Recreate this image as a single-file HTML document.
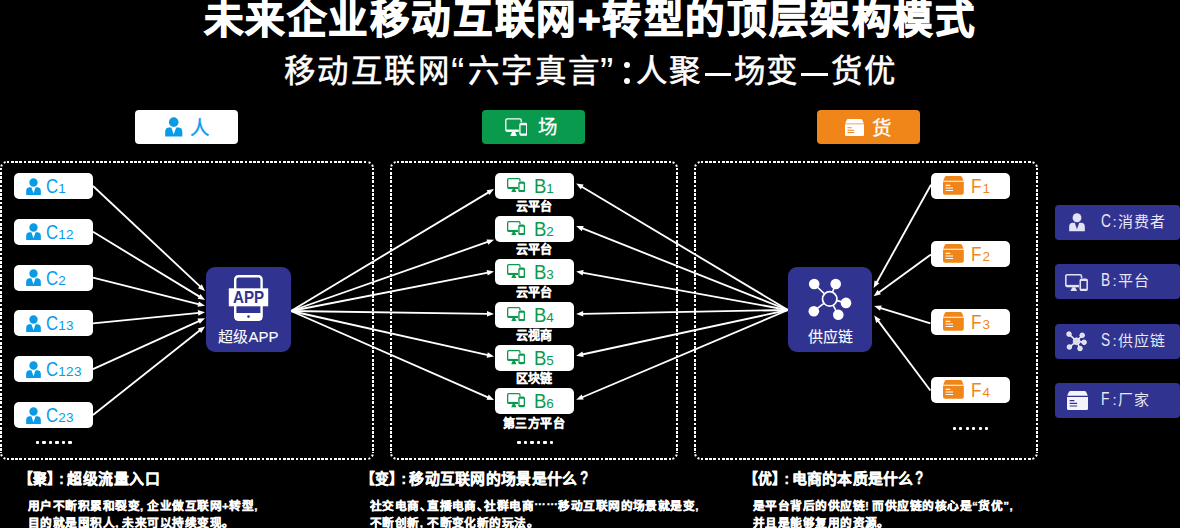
<!DOCTYPE html><html lang="zh-CN"><head><meta charset="utf-8"><title>未来企业移动互联网+转型的顶层架构模式</title><style>

html,body{margin:0;padding:0;background:#000;}
html{width:1180px;height:528px;overflow:hidden;}
#root{position:absolute;left:0;top:0;width:1180px;height:528px;overflow:hidden;}
body{width:1180px;height:528px;overflow:hidden;position:relative;font-family:"Liberation Sans",sans-serif;color:#fff;}
.abs{position:absolute;white-space:nowrap;}
#title{left:0;width:1180px;top:-9px;text-align:center;font-size:39.5px;font-weight:bold;line-height:56px;letter-spacing:1.55px;-webkit-text-stroke:1.1px #fff;}
.sub{top:49.2px;font-size:31.4px;line-height:46px;letter-spacing:1.5px;-webkit-text-stroke:0.6px #fff;}
.q{font-size:40px;top:53px;-webkit-text-stroke:0;}
.dot{width:6.4px;height:6.4px;border-radius:50%;background:#fff;}
.dash{top:72.9px;height:3.1px;background:#fff;}
.hd{top:110px;width:103px;height:34px;border-radius:4px;}
.hd .ic{position:absolute;}
.hd .tx{position:absolute;font-size:19.5px;line-height:34px;top:1.5px;-webkit-text-stroke:0.3px currentColor;}
.chip{background:#fff;border-radius:5px;width:79px;height:26px;}
.chip .ic{position:absolute;}
.chip .tx{position:absolute;top:0;line-height:26px;font-size:20px;}
.chip .tx sub{font-size:13.5px;vertical-align:baseline;line-height:0;letter-spacing:0.3px;}
.nc{display:inline-block;transform:scaleX(0.84);transform-origin:0 50%;margin-right:-2.2px;}
.nf{display:inline-block;transform:scaleX(0.86);transform-origin:0 50%;margin-right:-0.3px;}
.nb{display:inline-block;transform:scaleX(0.93);transform-origin:0 50%;margin-right:-1px;}
.blab{-webkit-text-stroke:0.3px #fff;font-size:12px;font-weight:bold;line-height:14px;width:120px;text-align:center;left:474px;}
.big{background:#313390;border-radius:9px;width:85px;height:85.5px;}
.big .tx{position:absolute;left:0;width:100%;text-align:center;font-size:15px;line-height:20px;top:60.5px;-webkit-text-stroke:0.1px #fff;}
.lg{background:#313390;border-radius:4px;left:1055px;width:125px;height:34.5px;}
.lg .tx{position:absolute;left:46px;top:0;line-height:34.5px;font-size:15px;letter-spacing:1px;color:#e8e8f6;}
.lg .ic{position:absolute;}
.ll{display:inline-block;width:11.6px;font-size:18.6px;line-height:0;transform:scaleX(0.74);transform-origin:0 50%;letter-spacing:0;}
.h3{font-size:14.9px;font-weight:bold;line-height:20px;letter-spacing:0.6px;-webkit-text-stroke:0.3px #fff;}
.qm{display:inline-block;font-size:17.5px;line-height:0;transform:scaleX(0.78);transform-origin:0 50%;margin-left:2px;}
.br{transform:scaleX(0.93);transform-origin:0 50%;letter-spacing:0;}
.p{font-size:11.7px;font-weight:bold;line-height:17.8px;letter-spacing:0.45px;-webkit-text-stroke:0.3px #fff;}
.c{display:inline-block;width:7.3px;text-align:left;}
.dots{font-size:12px;font-weight:bold;letter-spacing:0px;line-height:10px;}

</style></head><body><div id="root">
<div id="title" class="abs">未来企业移动互联网+转型的顶层架构模式</div>
<div id="s1" class="abs sub" style="left:283.6px;letter-spacing:2.5px">移动互联网</div>
<div id="s2" class="abs sub" style="left:451px"><span class="q">“</span></div>
<div id="s3" class="abs sub" style="left:467.8px;letter-spacing:2.5px">六字真言</div>
<div id="s4" class="abs sub" style="left:600px"><span class="q">”</span></div>
<div id="s6" class="abs sub" style="left:636px">人聚</div>
<div id="s7" class="abs sub" style="left:733.5px">场变</div>
<div id="s8" class="abs sub" style="left:831px">货优</div>
<div class="abs dot" style="left:623.9px;top:61.7px"></div><div class="abs dot" style="left:623.9px;top:77.9px"></div>
<div class="abs dash" style="left:704.7px;width:26px"></div><div class="abs dash" style="left:801px;width:27px"></div>
<svg class="abs" style="left:0;top:0" width="1180" height="528" viewBox="0 0 1180 528"><g stroke="#fff" stroke-width="2" fill="none" stroke-dasharray="2 2 3 1 3 1 3 2" shape-rendering="crispEdges"><path d="M7 162 H367"/><path d="M7 459 H367"/><path d="M1 168 V453"/><path d="M373 168 V453"/></g><g stroke="#fff" stroke-width="2" fill="none" stroke-dasharray="2 2.2" stroke-dashoffset="-1.6"><path d="M1 168 A6 6 0 0 1 7 162"/><path d="M367 162 A6 6 0 0 1 373 168"/><path d="M373 453 A6 6 0 0 1 367 459"/><path d="M7 459 A6 6 0 0 1 1 453"/></g><g stroke="#fff" stroke-width="2" fill="none" stroke-dasharray="2 2 3 1 3 1 3 2" shape-rendering="crispEdges"><path d="M397 162 H671"/><path d="M397 459 H671"/><path d="M391 168 V453"/><path d="M677 168 V453"/></g><g stroke="#fff" stroke-width="2" fill="none" stroke-dasharray="2 2.2" stroke-dashoffset="-1.6"><path d="M391 168 A6 6 0 0 1 397 162"/><path d="M671 162 A6 6 0 0 1 677 168"/><path d="M677 453 A6 6 0 0 1 671 459"/><path d="M397 459 A6 6 0 0 1 391 453"/></g><g stroke="#fff" stroke-width="2" fill="none" stroke-dasharray="2 2 3 1 3 1 3 2" shape-rendering="crispEdges"><path d="M701 162 H1031"/><path d="M701 459 H1031"/><path d="M695 168 V453"/><path d="M1037 168 V453"/></g><g stroke="#fff" stroke-width="2" fill="none" stroke-dasharray="2 2.2" stroke-dashoffset="-1.6"><path d="M695 168 A6 6 0 0 1 701 162"/><path d="M1031 162 A6 6 0 0 1 1037 168"/><path d="M1037 453 A6 6 0 0 1 1031 459"/><path d="M701 459 A6 6 0 0 1 695 453"/></g><line x1="93.0" y1="186.0" x2="200.6" y2="286.9" stroke="#fff" stroke-width="1.85"/><polygon points="205.0,291.0 198.0,288.3 201.8,284.2" fill="#fff"/><line x1="93.0" y1="231.8" x2="199.9" y2="296.9" stroke="#fff" stroke-width="1.85"/><polygon points="205.0,300.0 197.6,298.8 200.5,294.0" fill="#fff"/><line x1="93.0" y1="277.6" x2="199.2" y2="304.3" stroke="#fff" stroke-width="1.85"/><polygon points="205.0,305.8 197.5,306.8 198.9,301.4" fill="#fff"/><line x1="93.0" y1="323.4" x2="199.0" y2="312.8" stroke="#fff" stroke-width="1.85"/><polygon points="205.0,312.2 198.3,315.7 197.8,310.1" fill="#fff"/><line x1="93.0" y1="369.2" x2="199.5" y2="320.8" stroke="#fff" stroke-width="1.85"/><polygon points="205.0,318.3 199.8,323.7 197.5,318.6" fill="#fff"/><line x1="93.0" y1="415.0" x2="200.3" y2="330.1" stroke="#fff" stroke-width="1.85"/><polygon points="205.0,326.4 201.2,332.9 197.8,328.5" fill="#fff"/><line x1="291.0" y1="311.0" x2="488.9" y2="192.1" stroke="#fff" stroke-width="1.85"/><polygon points="494.0,189.0 489.4,195.0 486.6,190.2" fill="#fff"/><line x1="291.0" y1="311.0" x2="488.3" y2="241.7" stroke="#fff" stroke-width="1.85"/><polygon points="494.0,239.7 488.3,244.7 486.5,239.4" fill="#fff"/><line x1="291.0" y1="311.0" x2="488.1" y2="272.6" stroke="#fff" stroke-width="1.85"/><polygon points="494.0,271.5 487.7,275.6 486.6,270.1" fill="#fff"/><line x1="291.0" y1="311.0" x2="488.0" y2="313.8" stroke="#fff" stroke-width="1.85"/><polygon points="494.0,313.9 487.0,316.6 487.0,311.0" fill="#fff"/><line x1="291.0" y1="311.0" x2="488.1" y2="355.2" stroke="#fff" stroke-width="1.85"/><polygon points="494.0,356.5 486.6,357.7 487.8,352.2" fill="#fff"/><line x1="291.0" y1="311.0" x2="488.5" y2="397.6" stroke="#fff" stroke-width="1.85"/><polygon points="494.0,400.0 486.5,399.8 488.7,394.6" fill="#fff"/><line x1="788.0" y1="310.0" x2="581.4" y2="186.5" stroke="#fff" stroke-width="1.85"/><polygon points="576.2,183.4 583.6,184.6 580.8,189.4" fill="#fff"/><line x1="788.0" y1="310.0" x2="581.8" y2="228.2" stroke="#fff" stroke-width="1.85"/><polygon points="576.2,226.0 583.7,226.0 581.7,231.2" fill="#fff"/><line x1="788.0" y1="310.0" x2="582.1" y2="272.6" stroke="#fff" stroke-width="1.85"/><polygon points="576.2,271.5 583.6,270.0 582.6,275.5" fill="#fff"/><line x1="788.0" y1="310.0" x2="582.2" y2="313.8" stroke="#fff" stroke-width="1.85"/><polygon points="576.2,313.9 583.1,311.0 583.3,316.6" fill="#fff"/><line x1="788.0" y1="310.0" x2="582.1" y2="354.5" stroke="#fff" stroke-width="1.85"/><polygon points="576.2,355.8 582.5,351.6 583.6,357.1" fill="#fff"/><line x1="788.0" y1="310.0" x2="581.7" y2="397.5" stroke="#fff" stroke-width="1.85"/><polygon points="576.2,399.8 581.6,394.5 583.7,399.6" fill="#fff"/><line x1="931.0" y1="184.8" x2="876.5" y2="282.8" stroke="#fff" stroke-width="1.85"/><polygon points="873.6,288.0 874.6,280.5 879.4,283.2" fill="#fff"/><line x1="931.0" y1="254.4" x2="878.5" y2="292.7" stroke="#fff" stroke-width="1.85"/><polygon points="873.6,296.2 877.6,289.8 880.9,294.3" fill="#fff"/><line x1="930.4" y1="323.4" x2="879.9" y2="307.8" stroke="#fff" stroke-width="1.85"/><polygon points="874.2,306.0 881.7,305.4 880.1,310.7" fill="#fff"/><line x1="930.4" y1="390.5" x2="877.8" y2="320.4" stroke="#fff" stroke-width="1.85"/><polygon points="874.2,315.6 880.6,319.5 876.2,322.9" fill="#fff"/></svg>
<div class="abs hd" style="left:135px;background:#fff;color:#0a9be8"><div class="ic" style="left:30px;top:7px;width:17.5px;height:19.5px"><svg viewBox="0 0 20 22" width="100%" height="100%" preserveAspectRatio="none"><circle cx="10" cy="5.8" r="5.5" fill="#0a9be8"/><path d="M0.2 22 V16.8 Q0.2 11.9 5 11.9 H7.2 L9.95 19.8 L12.8 11.9 H15 Q19.8 11.9 19.8 16.8 V22 Z" fill="#0a9be8"/></svg></div><div class="tx" style="left:55px;top:0.6px">人</div></div>
<div class="abs hd" style="left:482px;background:#0a9a4d;color:#fff"><div class="ic" style="left:22.5px;top:8px;width:22.5px;height:18px"><svg viewBox="0 0 18 14.2" width="100%" height="100%" preserveAspectRatio="none" fill="none" stroke="#fff" stroke-width="1.05"><path d="M11 10.3 H1.8 Q0.65 10.3 0.65 9.1 V1.8 Q0.65 0.65 1.8 0.65 H11.8 Q12.95 0.65 12.95 1.8 V3.3"/><path d="M0.9 9.9 H11" stroke-width="1.58"/><path d="M5.7 10.9 H8 L9.5 14.2 H4.2 Z" fill="#fff" stroke="none"/><rect x="11.95" y="4.25" width="5.4" height="9.3" rx="1.1"/><path d="M12 5 H17.3 M12 12.9 H17.3" stroke-width="1.37"/></svg></div><div class="tx" style="left:55.5px;top:0.4px">场</div></div>
<div class="abs hd" style="left:817px;background:#f08619;color:#fff"><div class="ic" style="left:28px;top:8.5px;width:19px;height:17.5px"><svg viewBox="0 0 22 20" width="100%" height="100%" preserveAspectRatio="none"><path d="M0.2 5 L1.9 1.1 Q2.4 0 3.7 0 H18.3 Q19.6 0 20.1 1.1 L21.8 5 Z" fill="#fff"/><path d="M0 6.1 H22 V17.8 Q22 20 19.8 20 H2.2 Q0 20 0 17.8 Z" fill="#fff"/><path d="M2.8 10 H7.7 M2.8 12.8 H10.6 M2.8 15.5 H10.6" stroke="#f08619" stroke-width="1.15" fill="none"/></svg></div><div class="tx" style="left:54.5px;top:1px">货</div></div>
<div class="abs chip" style="left:14px;top:173.0px;color:#0a9be8"><div class="ic" style="left:11.6px;top:4.6px;width:15px;height:17px"><svg viewBox="0 0 20 22" width="100%" height="100%" preserveAspectRatio="none"><circle cx="10" cy="5.8" r="5.5" fill="#0a9be8"/><path d="M0.2 22 V16.8 Q0.2 11.9 5 11.9 H7.2 L9.95 19.8 L12.8 11.9 H15 Q19.8 11.9 19.8 16.8 V22 Z" fill="#0a9be8"/></svg></div><div class="tx" style="left:32px"><span class="nc">C</span><sub>1</sub></div></div>
<div class="abs chip" style="left:14px;top:218.8px;color:#0a9be8"><div class="ic" style="left:11.6px;top:4.6px;width:15px;height:17px"><svg viewBox="0 0 20 22" width="100%" height="100%" preserveAspectRatio="none"><circle cx="10" cy="5.8" r="5.5" fill="#0a9be8"/><path d="M0.2 22 V16.8 Q0.2 11.9 5 11.9 H7.2 L9.95 19.8 L12.8 11.9 H15 Q19.8 11.9 19.8 16.8 V22 Z" fill="#0a9be8"/></svg></div><div class="tx" style="left:32px"><span class="nc">C</span><sub>12</sub></div></div>
<div class="abs chip" style="left:14px;top:264.6px;color:#0a9be8"><div class="ic" style="left:11.6px;top:4.6px;width:15px;height:17px"><svg viewBox="0 0 20 22" width="100%" height="100%" preserveAspectRatio="none"><circle cx="10" cy="5.8" r="5.5" fill="#0a9be8"/><path d="M0.2 22 V16.8 Q0.2 11.9 5 11.9 H7.2 L9.95 19.8 L12.8 11.9 H15 Q19.8 11.9 19.8 16.8 V22 Z" fill="#0a9be8"/></svg></div><div class="tx" style="left:32px"><span class="nc">C</span><sub>2</sub></div></div>
<div class="abs chip" style="left:14px;top:310.4px;color:#0a9be8"><div class="ic" style="left:11.6px;top:4.6px;width:15px;height:17px"><svg viewBox="0 0 20 22" width="100%" height="100%" preserveAspectRatio="none"><circle cx="10" cy="5.8" r="5.5" fill="#0a9be8"/><path d="M0.2 22 V16.8 Q0.2 11.9 5 11.9 H7.2 L9.95 19.8 L12.8 11.9 H15 Q19.8 11.9 19.8 16.8 V22 Z" fill="#0a9be8"/></svg></div><div class="tx" style="left:32px"><span class="nc">C</span><sub>13</sub></div></div>
<div class="abs chip" style="left:14px;top:356.2px;color:#0a9be8"><div class="ic" style="left:11.6px;top:4.6px;width:15px;height:17px"><svg viewBox="0 0 20 22" width="100%" height="100%" preserveAspectRatio="none"><circle cx="10" cy="5.8" r="5.5" fill="#0a9be8"/><path d="M0.2 22 V16.8 Q0.2 11.9 5 11.9 H7.2 L9.95 19.8 L12.8 11.9 H15 Q19.8 11.9 19.8 16.8 V22 Z" fill="#0a9be8"/></svg></div><div class="tx" style="left:32px"><span class="nc">C</span><sub>123</sub></div></div>
<div class="abs chip" style="left:14px;top:402.0px;color:#0a9be8"><div class="ic" style="left:11.6px;top:4.6px;width:15px;height:17px"><svg viewBox="0 0 20 22" width="100%" height="100%" preserveAspectRatio="none"><circle cx="10" cy="5.8" r="5.5" fill="#0a9be8"/><path d="M0.2 22 V16.8 Q0.2 11.9 5 11.9 H7.2 L9.95 19.8 L12.8 11.9 H15 Q19.8 11.9 19.8 16.8 V22 Z" fill="#0a9be8"/></svg></div><div class="tx" style="left:32px"><span class="nc">C</span><sub>23</sub></div></div>
<div class="abs" style="left:35.9px;top:441.0px;width:3.2px;height:3px;border-radius:1px;background:#fff"></div><div class="abs" style="left:42.4px;top:441.0px;width:3.2px;height:3px;border-radius:1px;background:#fff"></div><div class="abs" style="left:48.9px;top:441.0px;width:3.2px;height:3px;border-radius:1px;background:#fff"></div><div class="abs" style="left:55.4px;top:441.0px;width:3.2px;height:3px;border-radius:1px;background:#fff"></div><div class="abs" style="left:61.9px;top:441.0px;width:3.2px;height:3px;border-radius:1px;background:#fff"></div><div class="abs" style="left:68.4px;top:441.0px;width:3.2px;height:3px;border-radius:1px;background:#fff"></div>
<div class="abs chip" style="left:495px;top:173.0px;color:#0a9a4d"><div class="ic" style="left:11.8px;top:5.2px;width:18px;height:14.2px"><svg viewBox="0 0 18 14.2" width="100%" height="100%" preserveAspectRatio="none" fill="none" stroke="#0a9a4d" stroke-width="1.3"><path d="M11 10.3 H1.8 Q0.65 10.3 0.65 9.1 V1.8 Q0.65 0.65 1.8 0.65 H11.8 Q12.95 0.65 12.95 1.8 V3.3"/><path d="M0.9 9.9 H11" stroke-width="1.95"/><path d="M5.7 10.9 H8 L9.5 14.2 H4.2 Z" fill="#0a9a4d" stroke="none"/><rect x="11.95" y="4.25" width="5.4" height="9.3" rx="1.1"/><path d="M12 5 H17.3 M12 12.9 H17.3" stroke-width="1.69"/></svg></div><div class="tx" style="left:38.8px"><span class="nb">B</span><sub>1</sub></div></div>
<div class="abs blab" style="top:199.5px;">云平台</div>
<div class="abs chip" style="left:495px;top:216.1px;color:#0a9a4d"><div class="ic" style="left:11.8px;top:5.2px;width:18px;height:14.2px"><svg viewBox="0 0 18 14.2" width="100%" height="100%" preserveAspectRatio="none" fill="none" stroke="#0a9a4d" stroke-width="1.3"><path d="M11 10.3 H1.8 Q0.65 10.3 0.65 9.1 V1.8 Q0.65 0.65 1.8 0.65 H11.8 Q12.95 0.65 12.95 1.8 V3.3"/><path d="M0.9 9.9 H11" stroke-width="1.95"/><path d="M5.7 10.9 H8 L9.5 14.2 H4.2 Z" fill="#0a9a4d" stroke="none"/><rect x="11.95" y="4.25" width="5.4" height="9.3" rx="1.1"/><path d="M12 5 H17.3 M12 12.9 H17.3" stroke-width="1.69"/></svg></div><div class="tx" style="left:38.8px"><span class="nb">B</span><sub>2</sub></div></div>
<div class="abs blab" style="top:242.6px;">云平台</div>
<div class="abs chip" style="left:495px;top:259.1px;color:#0a9a4d"><div class="ic" style="left:11.8px;top:5.2px;width:18px;height:14.2px"><svg viewBox="0 0 18 14.2" width="100%" height="100%" preserveAspectRatio="none" fill="none" stroke="#0a9a4d" stroke-width="1.3"><path d="M11 10.3 H1.8 Q0.65 10.3 0.65 9.1 V1.8 Q0.65 0.65 1.8 0.65 H11.8 Q12.95 0.65 12.95 1.8 V3.3"/><path d="M0.9 9.9 H11" stroke-width="1.95"/><path d="M5.7 10.9 H8 L9.5 14.2 H4.2 Z" fill="#0a9a4d" stroke="none"/><rect x="11.95" y="4.25" width="5.4" height="9.3" rx="1.1"/><path d="M12 5 H17.3 M12 12.9 H17.3" stroke-width="1.69"/></svg></div><div class="tx" style="left:38.8px"><span class="nb">B</span><sub>3</sub></div></div>
<div class="abs blab" style="top:285.6px;">云平台</div>
<div class="abs chip" style="left:495px;top:302.1px;color:#0a9a4d"><div class="ic" style="left:11.8px;top:5.2px;width:18px;height:14.2px"><svg viewBox="0 0 18 14.2" width="100%" height="100%" preserveAspectRatio="none" fill="none" stroke="#0a9a4d" stroke-width="1.3"><path d="M11 10.3 H1.8 Q0.65 10.3 0.65 9.1 V1.8 Q0.65 0.65 1.8 0.65 H11.8 Q12.95 0.65 12.95 1.8 V3.3"/><path d="M0.9 9.9 H11" stroke-width="1.95"/><path d="M5.7 10.9 H8 L9.5 14.2 H4.2 Z" fill="#0a9a4d" stroke="none"/><rect x="11.95" y="4.25" width="5.4" height="9.3" rx="1.1"/><path d="M12 5 H17.3 M12 12.9 H17.3" stroke-width="1.69"/></svg></div><div class="tx" style="left:38.8px"><span class="nb">B</span><sub>4</sub></div></div>
<div class="abs blab" style="top:328.6px;">云视商</div>
<div class="abs chip" style="left:495px;top:345.2px;color:#0a9a4d"><div class="ic" style="left:11.8px;top:5.2px;width:18px;height:14.2px"><svg viewBox="0 0 18 14.2" width="100%" height="100%" preserveAspectRatio="none" fill="none" stroke="#0a9a4d" stroke-width="1.3"><path d="M11 10.3 H1.8 Q0.65 10.3 0.65 9.1 V1.8 Q0.65 0.65 1.8 0.65 H11.8 Q12.95 0.65 12.95 1.8 V3.3"/><path d="M0.9 9.9 H11" stroke-width="1.95"/><path d="M5.7 10.9 H8 L9.5 14.2 H4.2 Z" fill="#0a9a4d" stroke="none"/><rect x="11.95" y="4.25" width="5.4" height="9.3" rx="1.1"/><path d="M12 5 H17.3 M12 12.9 H17.3" stroke-width="1.69"/></svg></div><div class="tx" style="left:38.8px"><span class="nb">B</span><sub>5</sub></div></div>
<div class="abs blab" style="top:371.7px;">区块链</div>
<div class="abs chip" style="left:495px;top:388.2px;color:#0a9a4d"><div class="ic" style="left:11.8px;top:5.2px;width:18px;height:14.2px"><svg viewBox="0 0 18 14.2" width="100%" height="100%" preserveAspectRatio="none" fill="none" stroke="#0a9a4d" stroke-width="1.3"><path d="M11 10.3 H1.8 Q0.65 10.3 0.65 9.1 V1.8 Q0.65 0.65 1.8 0.65 H11.8 Q12.95 0.65 12.95 1.8 V3.3"/><path d="M0.9 9.9 H11" stroke-width="1.95"/><path d="M5.7 10.9 H8 L9.5 14.2 H4.2 Z" fill="#0a9a4d" stroke="none"/><rect x="11.95" y="4.25" width="5.4" height="9.3" rx="1.1"/><path d="M12 5 H17.3 M12 12.9 H17.3" stroke-width="1.69"/></svg></div><div class="tx" style="left:38.8px"><span class="nb">B</span><sub>6</sub></div></div>
<div class="abs blab" style="top:416.8px;letter-spacing:0.5px;">第三方平台</div>
<div class="abs" style="left:517.4px;top:441.2px;width:3.2px;height:3px;border-radius:1px;background:#fff"></div><div class="abs" style="left:523.9px;top:441.2px;width:3.2px;height:3px;border-radius:1px;background:#fff"></div><div class="abs" style="left:530.4px;top:441.2px;width:3.2px;height:3px;border-radius:1px;background:#fff"></div><div class="abs" style="left:536.9px;top:441.2px;width:3.2px;height:3px;border-radius:1px;background:#fff"></div><div class="abs" style="left:543.4px;top:441.2px;width:3.2px;height:3px;border-radius:1px;background:#fff"></div><div class="abs" style="left:549.9px;top:441.2px;width:3.2px;height:3px;border-radius:1px;background:#fff"></div>
<div class="abs chip" style="left:931px;top:173.0px;color:#f08619"><div class="ic" style="left:11.8px;top:3.3px;width:20.8px;height:18.8px"><svg viewBox="0 0 22 20" width="100%" height="100%" preserveAspectRatio="none"><path d="M0.2 5 L1.9 1.1 Q2.4 0 3.7 0 H18.3 Q19.6 0 20.1 1.1 L21.8 5 Z" fill="#f08619"/><path d="M0 6.1 H22 V17.8 Q22 20 19.8 20 H2.2 Q0 20 0 17.8 Z" fill="#f08619"/><path d="M2.8 10 H7.7 M2.8 12.8 H10.6 M2.8 15.5 H10.6" stroke="#fff" stroke-width="1.15" fill="none"/></svg></div><div class="tx" style="left:39.6px"><span class="nf">F</span><sub>1</sub></div></div>
<div class="abs chip" style="left:931px;top:241.0px;color:#f08619"><div class="ic" style="left:11.8px;top:3.3px;width:20.8px;height:18.8px"><svg viewBox="0 0 22 20" width="100%" height="100%" preserveAspectRatio="none"><path d="M0.2 5 L1.9 1.1 Q2.4 0 3.7 0 H18.3 Q19.6 0 20.1 1.1 L21.8 5 Z" fill="#f08619"/><path d="M0 6.1 H22 V17.8 Q22 20 19.8 20 H2.2 Q0 20 0 17.8 Z" fill="#f08619"/><path d="M2.8 10 H7.7 M2.8 12.8 H10.6 M2.8 15.5 H10.6" stroke="#fff" stroke-width="1.15" fill="none"/></svg></div><div class="tx" style="left:39.6px"><span class="nf">F</span><sub>2</sub></div></div>
<div class="abs chip" style="left:931px;top:309.0px;color:#f08619"><div class="ic" style="left:11.8px;top:3.3px;width:20.8px;height:18.8px"><svg viewBox="0 0 22 20" width="100%" height="100%" preserveAspectRatio="none"><path d="M0.2 5 L1.9 1.1 Q2.4 0 3.7 0 H18.3 Q19.6 0 20.1 1.1 L21.8 5 Z" fill="#f08619"/><path d="M0 6.1 H22 V17.8 Q22 20 19.8 20 H2.2 Q0 20 0 17.8 Z" fill="#f08619"/><path d="M2.8 10 H7.7 M2.8 12.8 H10.6 M2.8 15.5 H10.6" stroke="#fff" stroke-width="1.15" fill="none"/></svg></div><div class="tx" style="left:39.6px"><span class="nf">F</span><sub>3</sub></div></div>
<div class="abs chip" style="left:931px;top:377.0px;color:#f08619"><div class="ic" style="left:11.8px;top:3.3px;width:20.8px;height:18.8px"><svg viewBox="0 0 22 20" width="100%" height="100%" preserveAspectRatio="none"><path d="M0.2 5 L1.9 1.1 Q2.4 0 3.7 0 H18.3 Q19.6 0 20.1 1.1 L21.8 5 Z" fill="#f08619"/><path d="M0 6.1 H22 V17.8 Q22 20 19.8 20 H2.2 Q0 20 0 17.8 Z" fill="#f08619"/><path d="M2.8 10 H7.7 M2.8 12.8 H10.6 M2.8 15.5 H10.6" stroke="#fff" stroke-width="1.15" fill="none"/></svg></div><div class="tx" style="left:39.6px"><span class="nf">F</span><sub>4</sub></div></div>
<div class="abs" style="left:952.6px;top:426.5px;width:3.2px;height:3px;border-radius:1px;background:#fff"></div><div class="abs" style="left:959.1px;top:426.5px;width:3.2px;height:3px;border-radius:1px;background:#fff"></div><div class="abs" style="left:965.6px;top:426.5px;width:3.2px;height:3px;border-radius:1px;background:#fff"></div><div class="abs" style="left:972.1px;top:426.5px;width:3.2px;height:3px;border-radius:1px;background:#fff"></div><div class="abs" style="left:978.6px;top:426.5px;width:3.2px;height:3px;border-radius:1px;background:#fff"></div><div class="abs" style="left:985.1px;top:426.5px;width:3.2px;height:3px;border-radius:1px;background:#fff"></div>
<div class="abs big" style="left:206px;top:266.5px"><svg class="abs" style="left:22px;top:8px" width="41" height="46" viewBox="0 0 41 46"><rect x="7.2" y="1.2" width="26.4" height="43.6" rx="3.2" fill="none" stroke="#fff" stroke-width="2.4"/><rect x="7" y="38" width="27" height="7" fill="#fff"/><circle cx="20.5" cy="41.6" r="1.3" fill="#313390"/><rect x="0.8" y="13.3" width="39.4" height="18" fill="#fff"/><text x="5" y="28.2" textLength="31" lengthAdjust="spacingAndGlyphs" font-family="Liberation Sans, sans-serif" font-weight="bold" font-size="16.2" fill="#313390">APP</text></svg><div class="tx">超级APP</div></div>
<div class="abs big" style="left:788px;top:266.5px;width:84px"><svg class="abs" style="left:0;top:0" width="85" height="60" viewBox="0 0 85 60"><line x1="41.7" y1="31.9" x2="26.2" y2="17" stroke="#fff" stroke-width="1.6"/><line x1="41.7" y1="31.9" x2="47.7" y2="17" stroke="#fff" stroke-width="1.6"/><line x1="41.7" y1="31.9" x2="58" y2="35.9" stroke="#fff" stroke-width="1.6"/><line x1="41.7" y1="31.9" x2="50.3" y2="47.8" stroke="#fff" stroke-width="1.6"/><line x1="41.7" y1="31.9" x2="25.8" y2="44.2" stroke="#fff" stroke-width="1.6"/><circle cx="26.2" cy="17" r="5.3" fill="#fff"/><circle cx="47.7" cy="17" r="5.3" fill="#fff"/><circle cx="58" cy="35.9" r="5.3" fill="#fff"/><circle cx="50.3" cy="47.8" r="5.3" fill="#fff"/><circle cx="25.8" cy="44.2" r="5.3" fill="#fff"/><circle cx="41.7" cy="31.9" r="7.2" fill="#313390" stroke="#fff" stroke-width="1.7"/></svg><div class="tx" style="top:60px">供应链</div></div>
<div class="abs lg" style="top:205px"><div class="ic" style="left:14px;top:8.4px;width:16px;height:18.2px"><svg viewBox="0 0 20 22" width="100%" height="100%" preserveAspectRatio="none"><circle cx="10" cy="5.8" r="5.5" fill="#e3e3f3"/><path d="M0.2 22 V16.8 Q0.2 11.9 5 11.9 H7.2 L9.95 19.8 L12.8 11.9 H15 Q19.8 11.9 19.8 16.8 V22 Z" fill="#e3e3f3"/></svg></div><div class="tx"><span class="ll">C</span>:消费者</div></div>
<div class="abs lg" style="top:264px"><div class="ic" style="left:10px;top:9.6px;width:23px;height:17.2px"><svg viewBox="0 0 18 14.2" width="100%" height="100%" preserveAspectRatio="none" fill="none" stroke="#e3e3f3" stroke-width="1.2"><path d="M11 10.3 H1.8 Q0.65 10.3 0.65 9.1 V1.8 Q0.65 0.65 1.8 0.65 H11.8 Q12.95 0.65 12.95 1.8 V3.3"/><path d="M0.9 9.9 H11" stroke-width="1.80"/><path d="M5.7 10.9 H8 L9.5 14.2 H4.2 Z" fill="#e3e3f3" stroke="none"/><rect x="11.95" y="4.25" width="5.4" height="9.3" rx="1.1"/><path d="M12 5 H17.3 M12 12.9 H17.3" stroke-width="1.56"/></svg></div><div class="tx"><span class="ll">B</span>:平台</div></div>
<div class="abs lg" style="top:324px"><svg class="ic" style="left:0;top:0" width="46" height="34" viewBox="0 0 46 34"><line x1="21.6" y1="17.3" x2="14" y2="10.1" stroke="#f2f2fa" stroke-width="1.5"/><line x1="21.6" y1="17.3" x2="27.2" y2="11.3" stroke="#f2f2fa" stroke-width="1.5"/><line x1="21.6" y1="17.3" x2="29.1" y2="18.3" stroke="#f2f2fa" stroke-width="1.5"/><line x1="21.6" y1="17.3" x2="25" y2="24.5" stroke="#f2f2fa" stroke-width="1.5"/><line x1="21.6" y1="17.3" x2="14.4" y2="23" stroke="#f2f2fa" stroke-width="1.5"/><circle cx="14" cy="10.1" r="2.3" fill="#dcdcf0" stroke="#f6f6fc" stroke-width="0.9"/><circle cx="27.2" cy="11.3" r="2.3" fill="#dcdcf0" stroke="#f6f6fc" stroke-width="0.9"/><circle cx="29.1" cy="18.3" r="2.3" fill="#dcdcf0" stroke="#f6f6fc" stroke-width="0.9"/><circle cx="25" cy="24.5" r="2.3" fill="#dcdcf0" stroke="#f6f6fc" stroke-width="0.9"/><circle cx="14.4" cy="23" r="2.3" fill="#dcdcf0" stroke="#f6f6fc" stroke-width="0.9"/><circle cx="21.6" cy="17.3" r="3.5" fill="#dcdcf0" stroke="#ececf8" stroke-width="0.6"/></svg><div class="tx"><span class="ll">S</span>:供应链</div></div>
<div class="abs lg" style="top:383px"><div class="ic" style="left:12.3px;top:7.7px;width:21px;height:19.3px"><svg viewBox="0 0 22 20" width="100%" height="100%" preserveAspectRatio="none"><path d="M0.2 5 L1.9 1.1 Q2.4 0 3.7 0 H18.3 Q19.6 0 20.1 1.1 L21.8 5 Z" fill="#f4f4fb"/><path d="M0 6.1 H22 V17.8 Q22 20 19.8 20 H2.2 Q0 20 0 17.8 Z" fill="#f4f4fb"/><path d="M2.8 10 H7.7 M2.8 12.8 H10.6 M2.8 15.5 H10.6" stroke="#313390" stroke-width="1.15" fill="none"/></svg></div><div class="tx"><span class="ll">F</span>:厂家</div></div>
<div class="abs h3 br" style="left:19.1px;top:468.9px">【聚】</div><div class="abs h3" style="left:59.0px;top:468.9px">:</div><div class="abs h3" style="left:67.0px;top:468.9px;letter-spacing:0.6px">超级流量入口</div>
<div class="abs h3 br" style="left:361.4px;top:468.9px">【变】</div><div class="abs h3" style="left:401.3px;top:468.9px">:</div><div class="abs h3" style="left:409.3px;top:468.9px;letter-spacing:0.3px">移动互联网的场景是什么<span class="qm">?</span></div>
<div class="abs h3 br" style="left:744.3px;top:468.9px">【优】</div><div class="abs h3" style="left:784.2px;top:468.9px">:</div><div class="abs h3" style="left:792.2px;top:468.9px;letter-spacing:0.1px">电商的本质是什么<span class="qm">?</span></div>
<div class="abs p" style="left:28px;top:496.7px">用户不断积累和裂变<span class="c">,</span>企业做互联网+转型<span class="c">,</span><br>目的就是囤积人<span class="c">,</span>未来可以持续变现。</div>
<div class="abs p" style="left:370px;top:496.7px">社交电商<span class="c">、</span>直播电商<span class="c">、</span>社群电商<span style="position:relative;top:-4.3px">……</span>移动互联网的场景就是变<span class="c">,</span><br>不断创新<span class="c">,</span>不断变化新的玩法。</div>
<div class="abs p" style="left:753px;top:496.7px">是平台背后的供应链<span class="c">!</span>而供应链的核心是“货优”<span class="c">,</span><br>并且是能够复用的资源。</div>
</div></body></html>
